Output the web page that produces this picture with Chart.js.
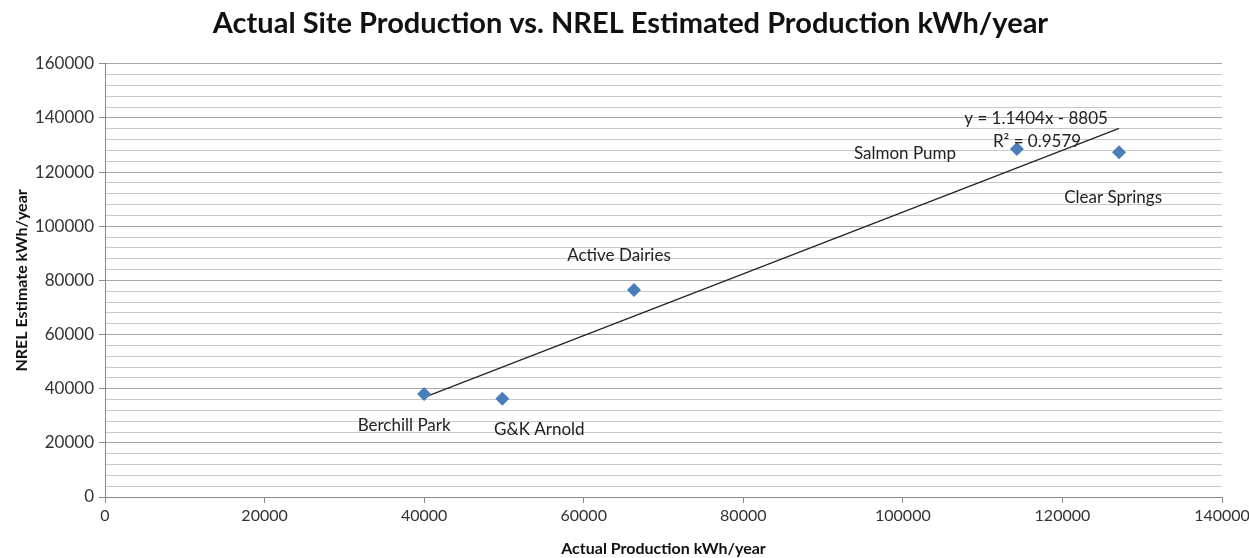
<!DOCTYPE html>
<html>
<head>
<meta charset="utf-8">
<script src="https://cdn.jsdelivr.net/npm/chart.js@4"></script>
<style>
  html, body { margin: 0; padding: 0; background: #fff; }
  #wrap { width: 1249px; height: 558px; }
</style>
</head>
<body>
<div id="wrap"><canvas id="myChart" width="1249" height="558"></canvas></div>
<script>
"use strict";

// Data
const siteNames = ["Berchill Park", "G&K Arnold", "Active Dairies", "Salmon Pump", "Clear Springs"];
const actualKwh = [40000, 49800, 66300, 114300, 127100];
const nrelKwh = [38000, 36300, 76500, 128500, 127300];

// Trendline from the equation shown on the chart
const trendSlope = 1.1404;
const trendIntercept = -8805;
const trendText = ["y = 1.1404x - 8805", "R² = 0.9579"];

// Label placement next to each point (pixels)
const labelOffsets = [[-20, 31], [37, 31], [-15, -34], [-112, 4], [-6, 45]];

const FONT = "Lato, 'Open Sans', sans-serif";

const xMin = Math.min(...actualKwh);
const xMax = Math.max(...actualKwh);
const trendPoints = [
  { x: xMin, y: trendSlope * xMin + trendIntercept },
  { x: xMax, y: trendSlope * xMax + trendIntercept }
];

// Ritar punktetiketter och trendlinjens ekvation
const labelPlugin = {
  id: "pointLabels",
  afterDatasetsDraw(chart) {
    const { ctx, scales } = chart;
    ctx.save();
    ctx.font = "17px " + FONT;
    ctx.fillStyle = "#222";
    ctx.textAlign = "center";
    ctx.textBaseline = "middle";
    siteNames.forEach((name, i) => {
      const px = scales.x.getPixelForValue(actualKwh[i]);
      const py = scales.y.getPixelForValue(nrelKwh[i]);
      ctx.fillText(name, px + labelOffsets[i][0], py + labelOffsets[i][1]);
    });
    const ex = scales.x.getPixelForValue(xMax) - 83;
    const ey = scales.y.getPixelForValue(trendPoints[1].y) - 10;
    ctx.fillText(trendText[0], ex, ey);
    ctx.fillText(trendText[1], ex + 1, ey + 23);
    ctx.restore();
  }
};

new Chart(document.getElementById("myChart"), {
  type: "scatter",
  data: {
    datasets: [
      {
        label: "Sites",
        data: actualKwh.map((x, i) => ({ x, y: nrelKwh[i] })),
        pointStyle: "rectRot",
        radius: 7,
        backgroundColor: "#4a7ebb",
        borderColor: "#4a7ebb",
        borderWidth: 0,
        order: 1
      },
      {
        label: "Trend",
        type: "line",
        data: trendPoints,
        borderColor: "#222",
        borderWidth: 1.2,
        pointRadius: 0,
        fill: false,
        order: 2
      }
    ]
  },
  options: {
    responsive: false,
    animation: false,
    layout: { padding: { left: 12, right: 0, top: 0, bottom: 0 } },
    plugins: {
      legend: { display: false },
      tooltip: { enabled: false },
      title: {
        display: true,
        text: "Actual Site Production vs. NREL Estimated Production kWh/year",
        color: "#111",
        font: { family: FONT, size: 29, weight: "bold" },
        padding: { top: 6, bottom: 23 }
      }
    },
    scales: {
      x: {
        type: "linear",
        min: 0,
        max: 140000,
        ticks: {
          stepSize: 20000,
          color: "#333",
          font: { family: FONT, size: 16 },
          maxRotation: 0,
          padding: 3,
          callback: (v) => String(v)
        },
        grid: { drawOnChartArea: false, drawTicks: true, tickLength: 6, color: "#888" },
        border: { color: "#888" },
        title: {
          display: true,
          text: "Actual Production kWh/year",
          color: "#111",
          font: { family: FONT, size: 16, weight: "bold" },
          padding: { top: 2, bottom: 0 }
        },
        afterFit(scale) {
          scale.height = 61;
          scale.paddingRight = 27;
        }
      },
      y: {
        type: "linear",
        min: 0,
        max: 160000,
        ticks: {
          stepSize: 4000,
          autoSkip: false,
          color: "#333",
          font: { family: FONT, size: 17 },
          padding: 5,
          callback: (v) => (v % 20000 === 0 ? String(v) : "")
        },
        grid: {
          color: (c) => (c.tick && c.tick.value % 20000 === 0 ? "#a8a8a8" : "#c8c8c8"),
          tickColor: (c) => (c.tick && c.tick.value % 20000 === 0 ? "#888" : "transparent"),
          tickLength: 6
        },
        border: { color: "#888" },
        title: {
          display: true,
          text: "NREL Estimate kWh/year",
          color: "#111",
          font: { family: FONT, size: 16, weight: "bold" },
          padding: { top: 0, bottom: 4 }
        },
        afterFit(scale) { scale.width = 93; }
      }
    }
  },
  plugins: [labelPlugin]
});
</script>
</body>
</html>
